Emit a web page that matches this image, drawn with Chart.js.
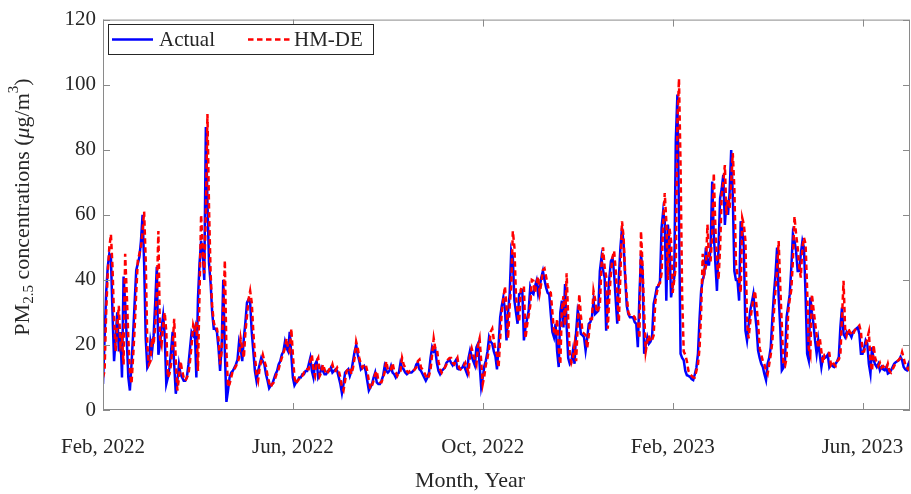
<!DOCTYPE html>
<html>
<head>
<meta charset="utf-8">
<script src="https://cdn.jsdelivr.net/npm/chart.js@4.4.0/dist/chart.umd.min.js"></script>
<style>
  html, body { margin: 0; padding: 0; background: #fff; }
  #wrap { width: 911px; height: 494px; }
</style>
</head>
<body>
<div id="wrap"><canvas id="pmChart" width="911" height="494"></canvas></div>
<script>
// ========== DATA ==========
// x is the sample index (daily), ticks every 120 samples
const tickPositions = [0, 120, 240, 360, 480];
const tickLabels = ['Feb, 2022', 'Jun, 2022', 'Oct, 2022', 'Feb, 2023', 'Jun, 2023'];
const seriesNames = ['Actual', 'HM-DE'];

const actual = [
  8, 22, 36, 44, 48, 47, 30, 15, 22, 30,
  18, 24, 10, 41, 33, 22, 10, 6, 14, 23,
  33, 43, 45, 47, 52, 60, 45, 22, 13, 14,
  21, 18, 23, 33, 44, 17, 20, 25, 29, 23,
  8, 10, 13, 18, 24, 14, 5, 9, 14, 11,
  10, 9, 9, 10, 14, 19, 24, 23, 25, 10,
  34, 45, 52, 48, 40, 87, 64, 45, 39, 30,
  25, 25, 24, 19, 12, 20, 40, 18, 2.5, 6,
  10, 11.5, 12, 13, 14, 15.5, 21, 19, 15, 22,
  27, 33, 34, 33, 24, 18, 12, 9, 12, 14,
  16, 15, 14, 11, 9, 6.7, 7.5, 8, 9.5, 11,
  12, 14, 15, 17, 18, 21, 19, 18, 24, 17,
  10, 7.6, 8.5, 9, 10, 10, 11, 11, 12, 12,
  14, 16, 12, 10, 14, 15, 10, 11, 13, 12,
  11, 11, 12, 12, 13, 11.5, 12, 12.5, 12, 10,
  8, 5.2, 8, 11.5, 12, 12.5, 10.5, 12, 15, 18,
  20, 17, 15, 12.5, 13, 13.5, 12, 9, 6, 7,
  8, 10, 11.5, 8.5, 8, 8, 9, 10.5, 13.5, 12,
  11.5, 12, 13.5, 11.5, 11, 10, 11, 11.5, 14.5, 13,
  12.5, 11.5, 11, 11.5, 11.5, 11.5, 12, 12.5, 14, 14.5,
  12.5, 12, 11, 10, 9, 10, 11.5, 16, 19.3, 18,
  18.5, 14.5, 12, 11, 12, 12.5, 13, 14.5, 15, 15.5,
  14.5, 13.7, 14.5, 15.3, 12.7, 12.5, 12.7, 13, 14, 12.5,
  11.2, 16, 18.3, 16.5, 15, 13.7, 19.3, 20.4, 14, 7.1,
  10, 13.5, 15.3, 18, 22.4, 21, 20.4, 18, 16.5, 12.5,
  20, 28.5, 32, 34.6, 31, 21.4, 30, 35.6, 49, 47,
  33.6, 30, 26.5, 35.6, 36, 36.6, 21.4, 25.4, 28, 30.5,
  37.7, 36, 35.6, 38, 39.7, 35.6, 38, 40.7, 42.7, 40,
  37.7, 36, 35.6, 29.5, 24, 22.4, 26.5, 18, 13.2, 30,
  33.6, 25.4, 38.7, 26, 16, 14.2, 15, 18.3, 14.2, 24,
  30.5, 28.5, 23.4, 23, 22.4, 18.3, 22, 26.5, 27, 28.5,
  33.6, 29.5, 30, 30.5, 42.7, 46.8, 43, 40.7, 24.4, 34,
  40.7, 45.8, 46.8, 42, 34, 26.5, 40.7, 50, 56, 51,
  40.7, 32, 29.5, 28.5, 28.5, 28.5, 27, 26.5, 19.3, 35,
  47.8, 42.7, 17.3, 20, 22.4, 20.4, 21, 22.4, 32.6, 35,
  37.7, 38, 39.7, 56, 61, 58, 33.6, 57, 51, 34.6,
  38, 40.7, 83, 97, 60, 17.3, 16, 15.3, 12, 10.7,
  10.5, 10.2, 9.5, 9.2, 11, 13, 17.3, 28, 36.6, 40,
  41.7, 49.9, 44.7, 44.7, 50, 70.2, 54, 45, 36.6, 49.9,
  65.1, 68, 72.3, 56.9, 64, 60, 67, 79.9, 66, 42.7,
  40, 39.7, 33.6, 58, 55, 50, 24.4, 21.4, 26, 30.5,
  33, 35.6, 30, 25.4, 18.3, 16, 14.2, 13.2, 11, 9.2,
  14.2, 16, 19.3, 28, 35.6, 41.7, 49.9, 35, 25.4, 12.2,
  13, 15.3, 28.5, 32, 35.6, 43.8, 54, 52, 48.9, 42.7,
  42.7, 48, 51.9, 49.9, 35.6, 17.3, 15.3, 34.6, 30, 26.5,
  21.4, 17.3, 21.4, 17, 13.2, 16.3, 16, 16.3, 17, 13.2,
  14.2, 13.5, 13.2, 14.2, 15, 16.3, 25.4, 31.5, 23.4, 22.4,
  24, 23.5, 23.4, 22.4, 24, 24.5, 25, 25.4, 23.4, 17.3,
  17.3, 19, 21.4, 20.4, 14.2, 11.2, 19.3, 15.3, 14, 13.2,
  14.2, 12.2, 13.2, 12.5, 12.2, 13.2, 11.2, 11.5, 12.2, 13.2,
  14.2, 14.7, 15, 15.3, 16.3, 15.3, 13.2, 12.5, 12.2, 14.2, 15.3
];

const hmde = [
  10, 12, 30, 42, 50, 54, 44, 28, 18, 26,
  32, 20, 22, 14, 48, 36, 22, 12, 8, 16,
  25, 36, 46, 48, 50, 55, 61, 46, 20, 14,
  15, 22, 20, 26, 36, 55, 22, 20, 26, 30,
  24, 10, 11, 14, 20, 28, 15, 6, 10, 15,
  12, 10, 9, 10, 11, 15, 20, 26, 24, 27,
  12, 36, 60, 50, 42, 60, 91, 62, 42, 32,
  27, 25, 25, 22, 14, 18, 30, 46, 18, 7,
  8, 10, 12, 12.5, 13.5, 14.5, 16, 22, 19, 16,
  24, 29, 34, 36.6, 33, 24, 17, 11, 9, 13,
  15, 17, 15, 13.5, 10.5, 8.5, 7, 8, 8.5, 10,
  11.5, 12.5, 14.5, 16, 17.5, 19, 22, 19, 18, 25,
  17, 10, 8, 9, 9.5, 10.5, 10.5, 11.5, 11.5, 12.5,
  12.5, 15, 17, 12, 10.5, 15, 16, 10.5, 11.5, 14,
  12.5, 11, 11.5, 12.5, 12.5, 14, 12, 12, 13, 12,
  10, 7, 6, 9, 12, 12.5, 13, 11, 13, 16,
  21, 19, 16, 14, 13, 14, 14, 12, 9, 6.5,
  7.5, 9, 11, 12, 9, 8.5, 8.5, 10, 11.5, 15,
  12.5, 12, 12.5, 14.5, 12, 11.5, 10.5, 11.5, 12, 16,
  14, 13, 12, 11.5, 12, 12, 12, 12.5, 13, 15,
  15.5, 13, 12.5, 11.5, 10.5, 9.5, 10.5, 12.5, 17, 22,
  19, 19, 15, 12.5, 11.5, 12.5, 13, 14, 15.5, 16,
  16, 14.5, 14, 15, 16, 13, 12.5, 13, 13.5, 14.5,
  13, 11.5, 17, 19, 17, 15.5, 14, 20, 22, 15,
  8, 10.5, 14, 16, 19, 24, 25, 21.5, 18.5, 17,
  13, 22, 30, 34, 38, 32, 22, 32, 38, 55,
  50, 35, 30, 27, 37, 38, 38, 22, 26, 29,
  32, 40, 39.7, 36, 39, 41, 36, 39, 43, 43.5,
  41, 38.5, 36.5, 36, 30, 24, 23, 28, 19, 14,
  31, 35, 26, 42, 28, 17, 14.5, 16, 20, 15,
  26, 35.6, 29, 24, 23.5, 23, 19, 23, 28, 28,
  36.6, 34, 30, 31, 32, 44, 50, 44, 41, 25,
  35, 42, 47, 48.9, 43, 35, 27, 42, 58, 53,
  42, 35, 30, 29, 29, 29, 28.5, 27, 27, 22,
  55, 44, 30, 18, 21, 23, 21, 21.5, 23, 33,
  36, 38.5, 39, 42, 57, 66.7, 58, 40, 56, 52,
  36, 40, 44, 88, 101.8, 75, 35, 18, 17, 15,
  12, 11, 10.5, 10, 10, 12, 14, 19, 30, 48,
  42, 44, 57, 46, 46, 54, 72.8, 56, 46, 40,
  50, 66, 70, 75.3, 60, 65, 62, 70, 79, 68,
  45, 41, 40, 36, 59, 57, 52, 27, 22, 27,
  31, 34, 36.6, 32, 27, 19, 17, 15, 14, 12,
  11, 14, 17, 21, 30, 37, 43, 51.9, 38, 26,
  14, 13.5, 16, 30, 34, 37, 46, 59.5, 54, 50,
  44, 40.7, 50, 53, 51, 37, 19, 17, 35.6, 31,
  27, 23, 19, 22, 18, 14.5, 17, 17, 17.5, 17.5,
  14, 15, 14, 13.5, 15, 15.5, 17, 28, 39.7, 25,
  23, 25, 24, 23.5, 23, 24.5, 25, 25.5, 26, 24,
  18, 18, 20, 22, 24, 15, 12, 20, 16, 14.5,
  13.5, 14.5, 13, 13.5, 13, 12.5, 14.2, 12, 11.5, 12.5,
  13.5, 14.5, 15, 15.5, 16, 17.8, 16, 14, 13, 12.5, 15
];

// ========== STYLE ==========
const FONT = '"Liberation Serif", "Times New Roman", serif';
const AXIS_GRAY = '#8a8a8a';
const TEXT = '#262626';
const TICK_SIZE = 21;
const LABEL_SIZE = 22;   // axis titles are a bit larger than tick labels

// box, inward ticks on all four sides, x tick labels, legend and axis titles
const matlabFrame = {
    id: 'matlabFrame',
    afterDraw(chart) {
        const { ctx, chartArea: a, scales: { x, y } } = chart;
        ctx.save();

        // axes box + ticks
        ctx.strokeStyle = AXIS_GRAY;
        ctx.lineWidth = 1;
        ctx.strokeRect(a.left + 0.5, a.top + 0.5, a.right - a.left - 1, a.bottom - a.top - 1);
        ctx.beginPath();
        tickPositions.forEach(v => {
            const px = Math.round(x.getPixelForValue(v)) + 0.5;
            ctx.moveTo(px, a.bottom); ctx.lineTo(px, a.bottom - 7);
            ctx.moveTo(px, a.top); ctx.lineTo(px, a.top + 7);
        });
        y.ticks.forEach(t => {
            const py = Math.round(y.getPixelForValue(t.value)) + 0.5;
            ctx.moveTo(a.left, py); ctx.lineTo(a.left + 7, py);
            ctx.moveTo(a.right, py); ctx.lineTo(a.right - 7, py);
        });
        ctx.stroke();

        // x tick labels
        ctx.fillStyle = TEXT;
        ctx.font = TICK_SIZE + 'px ' + FONT;
        ctx.textAlign = 'center';
        ctx.textBaseline = 'middle';
        tickPositions.forEach((v, i) => {
            ctx.fillText(tickLabels[i], x.getPixelForValue(v), a.bottom + 37);
        });

        // legend
        const ds = chart.data.datasets;
        const lx = 108, ly = 24, lw = 265, lh = 30, my = ly + lh / 2 + 0.5;
        ctx.fillStyle = '#fff';
        ctx.fillRect(lx, ly, lw, lh);
        ctx.strokeStyle = TEXT;
        ctx.strokeRect(lx + 0.5, ly + 0.5, lw, lh);
        const items = [
            { x0: 112, x1: 153, tx: 159, d: ds[0] },
            { x0: 248, x1: 290, tx: 294, d: ds[1] }
        ];
        ctx.font = TICK_SIZE + 'px ' + FONT;
        ctx.textAlign = 'left';
        items.forEach(it => {
            ctx.strokeStyle = it.d.borderColor;
            ctx.lineWidth = it.d.borderWidth;
            ctx.setLineDash(it.d.borderDash || []);
            ctx.beginPath();
            ctx.moveTo(it.x0, my); ctx.lineTo(it.x1, my);
            ctx.stroke();
            ctx.setLineDash([]);
            ctx.fillStyle = TEXT;
            ctx.fillText(it.d.label, it.tx, my + 1);
        });

        // x title
        ctx.fillStyle = TEXT;
        ctx.textAlign = 'center';
        ctx.font = LABEL_SIZE + 'px ' + FONT;
        ctx.fillText('Month, Year', 470, 481);

        // y title with sub/superscripts
        const parts = [
            { t: 'PM', f: LABEL_SIZE + 'px ', dy: 0 },
            { t: '2.5', f: '15px ', dy: 6 },
            { t: ' concentrations (', f: LABEL_SIZE + 'px ', dy: 0 },
            { t: 'μ', f: 'italic ' + LABEL_SIZE + 'px ', dy: 0 },
            { t: 'g/m', f: LABEL_SIZE + 'px ', dy: 0 },
            { t: '3', f: '15px ', dy: -9 },
            { t: ')', f: LABEL_SIZE + 'px ', dy: 0 }
        ];
        let total = 0;
        parts.forEach(p => { ctx.font = p.f + FONT; p.w = ctx.measureText(p.t).width; total += p.w; });
        ctx.translate(23, 207);
        ctx.rotate(-Math.PI / 2);
        ctx.textAlign = 'left';
        let cx = -total / 2;
        parts.forEach(p => {
            ctx.font = p.f + FONT;
            ctx.fillText(p.t, cx, p.dy);
            cx += p.w;
        });
        ctx.restore();
    }
};

// ========== CHART ==========
const ctx = document.getElementById('pmChart').getContext('2d');
const pmChart = new Chart(ctx, {
    type: 'line',
    data: {
        datasets: [
            {
                label: seriesNames[0],
                data: actual.map((v, i) => ({ x: i, y: v })),
                borderColor: '#0000ff',
                borderWidth: 2.5,
                pointRadius: 0,
                tension: 0,
                order: 2
            },
            {
                label: seriesNames[1],
                data: hmde.map((v, i) => ({ x: i, y: v })),
                borderColor: '#ff0000',
                borderWidth: 2.5,
                borderDash: [5.5, 3.5],
                pointRadius: 0,
                tension: 0,
                order: 1
            }
        ]
    },
    options: {
        responsive: false,
        animation: false,
        devicePixelRatio: 1,
        events: [],
        layout: { padding: { top: 17, right: 1, left: 0, bottom: 0 } },
        plugins: { legend: { display: false }, tooltip: { enabled: false } },
        scales: {
            x: {
                type: 'linear',
                min: 0,
                max: 510,
                afterBuildTicks: s => { s.ticks = tickPositions.map(v => ({ value: v })); },
                afterFit: s => { s.height = 84; },
                grid: { display: false, drawTicks: false },
                border: { display: false },
                ticks: { display: false }   // labels drawn by matlabFrame
            },
            y: {
                min: 0,
                max: 120,
                afterFit: s => { s.width = 103; },
                grid: { display: false, drawTicks: false },
                border: { display: false },
                ticks: {
                    stepSize: 20,
                    padding: 7,
                    color: TEXT,
                    font: { family: FONT, size: TICK_SIZE }
                }
            }
        }
    },
    plugins: [matlabFrame]
});
</script>
</body>
</html>
